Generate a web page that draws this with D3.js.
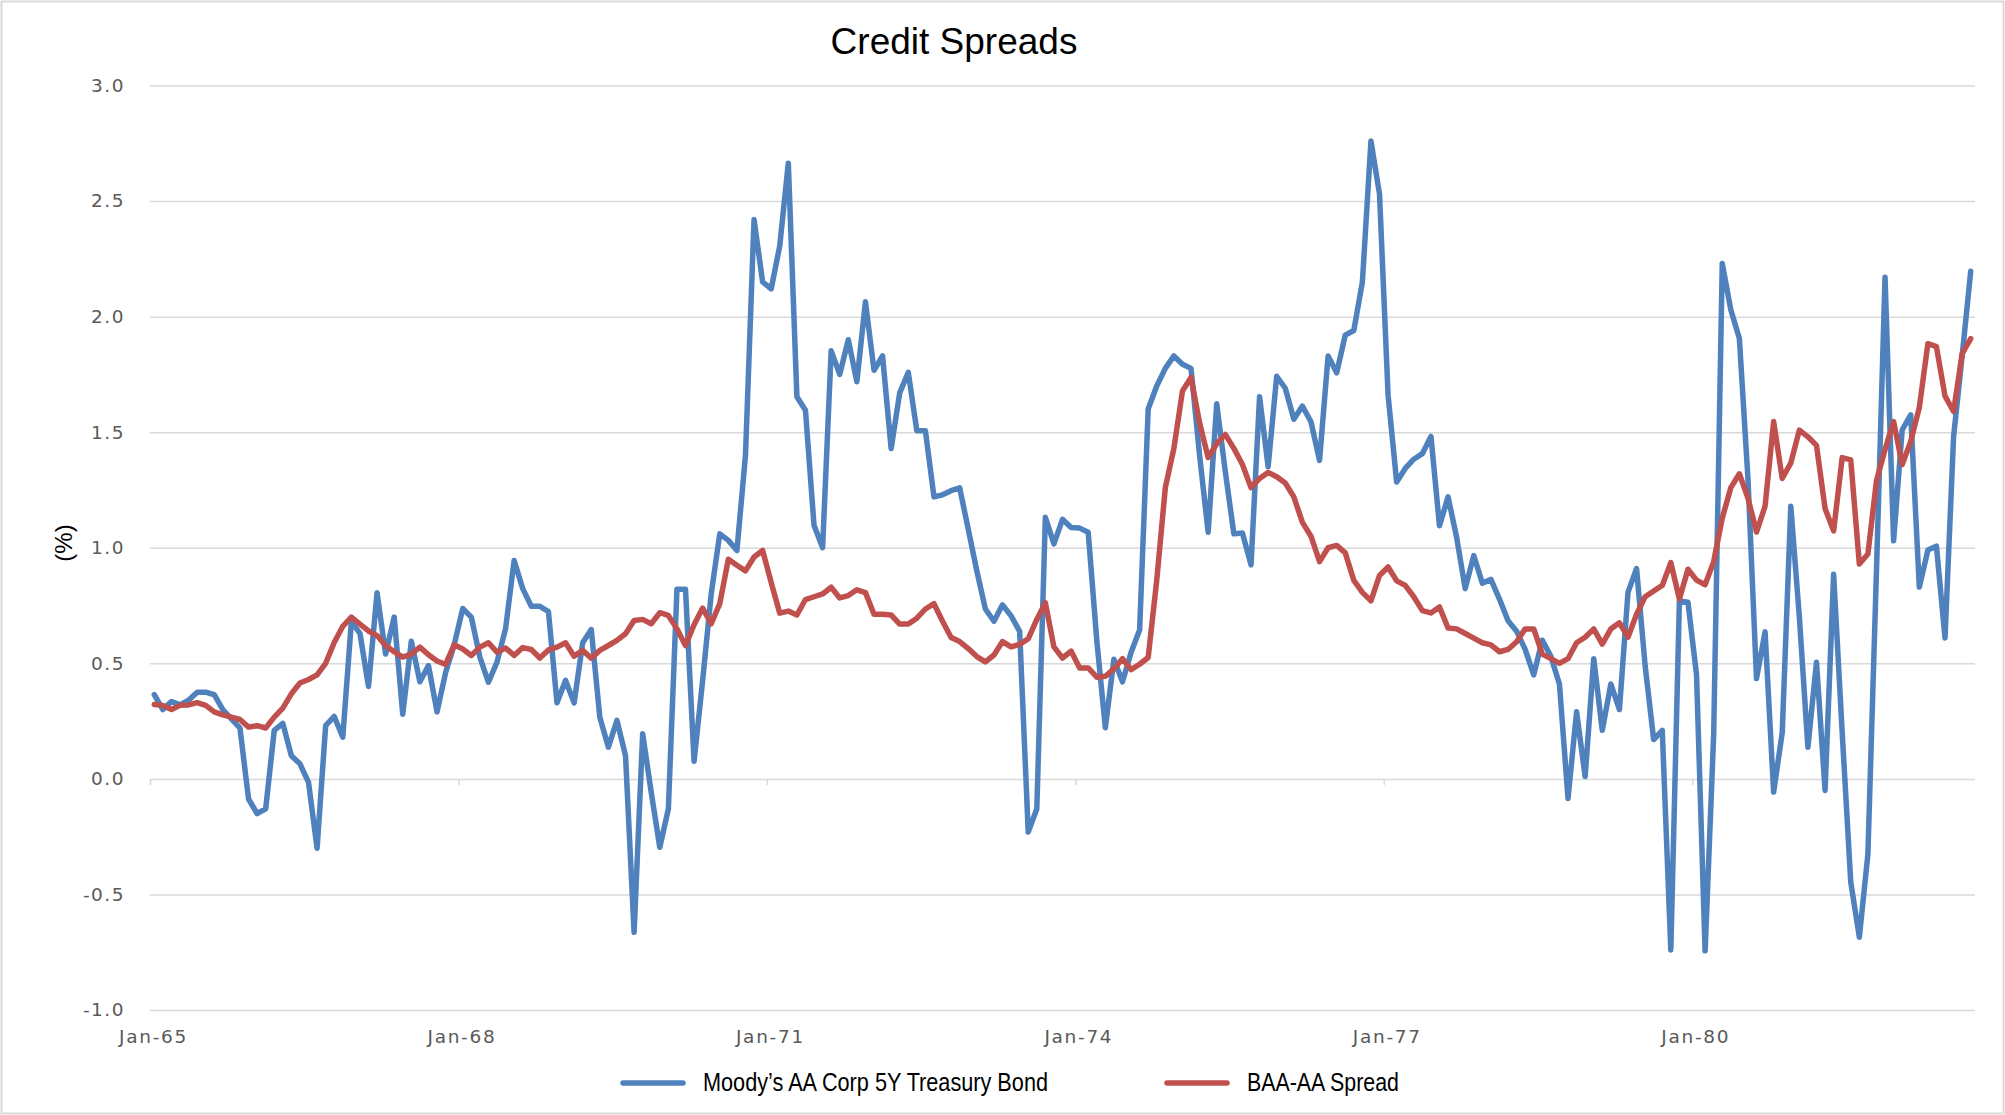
<!DOCTYPE html>
<html>
<head>
<meta charset="utf-8">
<script src="https://cdnjs.cloudflare.com/ajax/libs/d3/7.8.5/d3.min.js"></script>
<style>
  body { margin: 0; background: #fff; }
  svg { display: block; }
</style>
</head>
<body>
<div id="container"></div>
<script>
// monthly data, Jan-65 .. Sep-82
let aaVsTreasury = [
  0.365, 0.30, 0.335, 0.32, 0.34, 0.375, 0.375, 0.364, 0.30, 0.26, 0.22, -0.087,
  -0.15, -0.13, 0.21, 0.24, 0.10, 0.065, -0.015, -0.30, 0.23, 0.27, 0.18, 0.68,
  0.63, 0.40, 0.805, 0.54, 0.70, 0.28, 0.595, 0.42, 0.49, 0.29, 0.46, 0.58,
  0.737, 0.70, 0.527, 0.418, 0.505, 0.65, 0.945, 0.823, 0.747, 0.747, 0.724, 0.329,
  0.426, 0.329, 0.589, 0.646, 0.267, 0.137, 0.253, 0.10, -0.664, 0.195, -0.058, -0.296,
  -0.13, 0.82, 0.82, 0.076, 0.426, 0.80, 1.06, 1.032, 0.988, 1.40, 2.42, 2.15,
  2.12, 2.306, 2.664, 1.653, 1.595, 1.097, 1.0, 1.852, 1.75, 1.90, 1.718, 2.064,
  1.768, 1.83, 1.429, 1.67, 1.759, 1.506, 1.506, 1.22, 1.229, 1.247, 1.259, 1.08,
  0.90, 0.735, 0.682, 0.753, 0.705, 0.638, -0.23, -0.13, 1.132, 1.017, 1.123, 1.088,
  1.085, 1.067, 0.60, 0.221, 0.518, 0.42, 0.547, 0.644, 1.60, 1.70, 1.776, 1.83,
  1.794, 1.776, 1.40, 1.067, 1.623, 1.33, 1.06, 1.064, 0.926, 1.653, 1.35, 1.742,
  1.69, 1.556, 1.613, 1.545, 1.378, 1.83, 1.757, 1.92, 1.94, 2.15, 2.76, 2.53,
  1.66, 1.284, 1.343, 1.383, 1.407, 1.482, 1.095, 1.22, 1.045, 0.823, 0.966, 0.847,
  0.863, 0.778, 0.684, 0.639, 0.56, 0.45, 0.60, 0.53, 0.41, -0.085, 0.29, 0.01,
  0.52, 0.21, 0.41, 0.30, 0.807, 0.91, 0.49, 0.17, 0.21, -0.74, 0.77, 0.764,
  0.45, -0.744, 0.19, 2.23, 2.03, 1.905, 1.30, 0.434, 0.636, -0.057, 0.20, 1.18,
  0.70, 0.137, 0.505, -0.05, 0.885, 0.20, -0.447, -0.685, -0.326, 0.90, 2.17, 1.03,
  1.51, 1.575, 0.83, 0.99, 1.007, 0.61, 1.48, 1.83, 2.196
];

let baaVsAa = [
  0.322, 0.318, 0.30, 0.318, 0.32, 0.33, 0.318, 0.29, 0.277, 0.267, 0.257, 0.224,
  0.23, 0.22, 0.267, 0.306, 0.368, 0.415, 0.43, 0.45, 0.50, 0.59, 0.66, 0.70,
  0.67, 0.64, 0.62, 0.577, 0.55, 0.527, 0.54, 0.57, 0.537, 0.51, 0.495, 0.58,
  0.562, 0.534, 0.57, 0.589, 0.548, 0.566, 0.534, 0.568, 0.56, 0.523, 0.558, 0.57,
  0.589, 0.531, 0.556, 0.522, 0.556, 0.577, 0.599, 0.628, 0.685, 0.69, 0.671, 0.719,
  0.707, 0.649, 0.577, 0.667, 0.739, 0.671, 0.758, 0.95, 0.924, 0.90, 0.96, 0.988,
  0.85, 0.717, 0.726, 0.709, 0.776, 0.788, 0.80, 0.829, 0.783, 0.793, 0.818, 0.806,
  0.712, 0.712, 0.709, 0.67, 0.67, 0.695, 0.735, 0.758, 0.682, 0.612, 0.594, 0.564,
  0.529, 0.506, 0.536, 0.594, 0.571, 0.582, 0.606, 0.69, 0.762, 0.571, 0.523, 0.553,
  0.48, 0.48, 0.44, 0.444, 0.476, 0.52, 0.473, 0.496, 0.525, 0.86, 1.26, 1.43,
  1.678, 1.737, 1.54, 1.39, 1.45, 1.49, 1.43, 1.36, 1.26, 1.30, 1.326, 1.307,
  1.28, 1.22, 1.11, 1.05, 0.94, 1.0, 1.01, 0.978, 0.859, 0.807, 0.77, 0.88,
  0.917, 0.857, 0.837, 0.788, 0.728, 0.718, 0.744, 0.653, 0.649, 0.629, 0.609, 0.589,
  0.58, 0.55, 0.56, 0.593, 0.649, 0.649, 0.54, 0.52, 0.50, 0.52, 0.589, 0.613,
  0.649, 0.583, 0.649, 0.675, 0.613, 0.712, 0.788, 0.813, 0.837, 0.936, 0.778, 0.907,
  0.86, 0.84, 0.94, 1.128, 1.26, 1.32, 1.215, 1.068, 1.18, 1.546, 1.30, 1.366,
  1.509, 1.48, 1.443, 1.17, 1.073, 1.39, 1.38, 0.93, 0.973, 1.29, 1.425, 1.546,
  1.36, 1.46, 1.606, 1.883, 1.87, 1.656, 1.59, 1.84, 1.905
];

let xTickLabels = ["Jan-65", "Jan-68", "Jan-71", "Jan-74", "Jan-77", "Jan-80"];
let yTicks = [-1.0, -0.5, 0.0, 0.5, 1.0, 1.5, 2.0, 2.5, 3.0];
let seriesNames = ["Moody\u2019s AA Corp 5Y Treasury Bond", "BAA-AA Spread"];
let seriesColors = ["#4f81bd", "#c0504d"];

// month categories
let months = d3.timeMonth.range(new Date(1965, 0, 1), new Date(1965, aaVsTreasury.length, 1));
let monthFmt = d3.timeFormat("%b-%y");

let w = 2005;
let h = 1115;
let plotLeft = 150, plotRight = 1975, plotTop = 85.5, plotBottom = 1010;

let viz = d3.select("#container")
  .append("svg")
    .attr("width", w)
    .attr("height", h)
;

viz.append("rect")
    .attr("x", 1.5).attr("y", 1.5)
    .attr("width", w - 3).attr("height", h - 3)
    .attr("fill", "#fff")
    .attr("stroke", "#d9d9d9")
    .attr("stroke-width", 2)
;

let xScale = d3.scalePoint().domain(months).range([plotLeft, plotRight]).padding(0.5);
let yScale = d3.scaleLinear().domain([-1, 3]).range([plotBottom, plotTop]);
let step = xScale.step();

// gridlines + y labels
let yAxis = d3.axisLeft(yScale)
    .tickValues(yTicks)
    .tickSize(-(plotRight - plotLeft))
    .tickPadding(25)
    .tickFormat(function(d){ return d.toFixed(1); });
let yAxisGroup = viz.append("g")
    .attr("class", "yaxisgroup")
    .attr("transform", "translate(" + plotLeft + ",0)")
    .call(yAxis);
yAxisGroup.select(".domain").remove();
yAxisGroup.selectAll(".tick line")
    .attr("stroke", "#d9d9d9")
    .attr("stroke-width", 1.5);
yAxisGroup.selectAll(".tick text")
    .attr("fill", "#595959")
    .style("font-family", "'DejaVu Sans', Verdana, sans-serif")
    .style("font-size", "18.5px")
    .style("letter-spacing", "1.5px");

// x tick marks on the zero line, at the start of each labelled month
let tickMonths = months.filter(function(d){ return xTickLabels.indexOf(monthFmt(d)) >= 0; });
let xTickAxis = d3.axisBottom(xScale).tickValues(tickMonths).tickSize(6).tickFormat("");
let xTickGroup = viz.append("g")
    .attr("transform", "translate(" + (-step / 2) + "," + yScale(0) + ")")
    .call(xTickAxis);
xTickGroup.select(".domain").remove();
xTickGroup.selectAll(".tick line").attr("stroke", "#d9d9d9").attr("stroke-width", 1.5);

// x labels along the bottom
let xAxis = d3.axisBottom(xScale).tickValues(tickMonths).tickSize(0).tickPadding(0)
    .tickFormat(monthFmt);
let xAxisGroup = viz.append("g")
    .attr("class", "xaxisgroup")
    .attr("transform", "translate(" + (-step / 2 + 3) + "," + plotBottom + ")")
    .call(xAxis);
xAxisGroup.select(".domain").remove();
xAxisGroup.selectAll(".tick text")
    .attr("fill", "#595959")
    .attr("dy", "33px")
    .style("font-family", "'DejaVu Sans', Verdana, sans-serif")
    .style("font-size", "18.5px")
    .style("letter-spacing", "1.7px");

// lines
let lineMaker = d3.line()
    .x(function(d, i){ return xScale(months[i]); })
    .y(function(d){ return yScale(d); });

[aaVsTreasury, baaVsAa].forEach(function(series, k){
  viz.append("path")
      .datum(series)
      .attr("d", lineMaker)
      .attr("fill", "none")
      .attr("stroke", seriesColors[k])
      .attr("stroke-width", 5.5)
      .attr("stroke-linejoin", "round")
      .attr("stroke-linecap", "round");
});

// title
viz.append("text")
    .attr("x", 954).attr("y", 54)
    .attr("text-anchor", "middle")
    .style("font-family", "'Liberation Sans', Arial, sans-serif")
    .style("font-size", "37px")
    .attr("fill", "#000")
    .text("Credit Spreads");

// y axis title
viz.append("text")
    .attr("transform", "translate(72,543) rotate(-90)")
    .attr("text-anchor", "middle")
    .style("font-family", "'Liberation Sans', Arial, sans-serif")
    .style("font-size", "24px")
    .attr("fill", "#000")
    .text("(%)");

// legend
let legendX = [623, 1167];
let legendTextX = [703, 1247];
let legendTextW = [345, 152];
let legend = viz.append("g");
seriesNames.forEach(function(name, k){
  legend.append("line")
      .attr("x1", legendX[k]).attr("x2", legendX[k] + 60)
      .attr("y1", 1083).attr("y2", 1083)
      .attr("stroke", seriesColors[k])
      .attr("stroke-width", 5.5)
      .attr("stroke-linecap", "round");
  legend.append("text")
      .attr("x", legendTextX[k]).attr("y", 1091)
      .attr("textLength", legendTextW[k])
      .attr("lengthAdjust", "spacingAndGlyphs")
      .style("font-family", "'Liberation Sans Narrow', 'Arial Narrow', 'Liberation Sans', sans-serif")
      .style("font-stretch", "condensed")
      .style("font-size", "25px")
      .attr("fill", "#000")
      .text(name);
});
</script>
</body>
</html>
